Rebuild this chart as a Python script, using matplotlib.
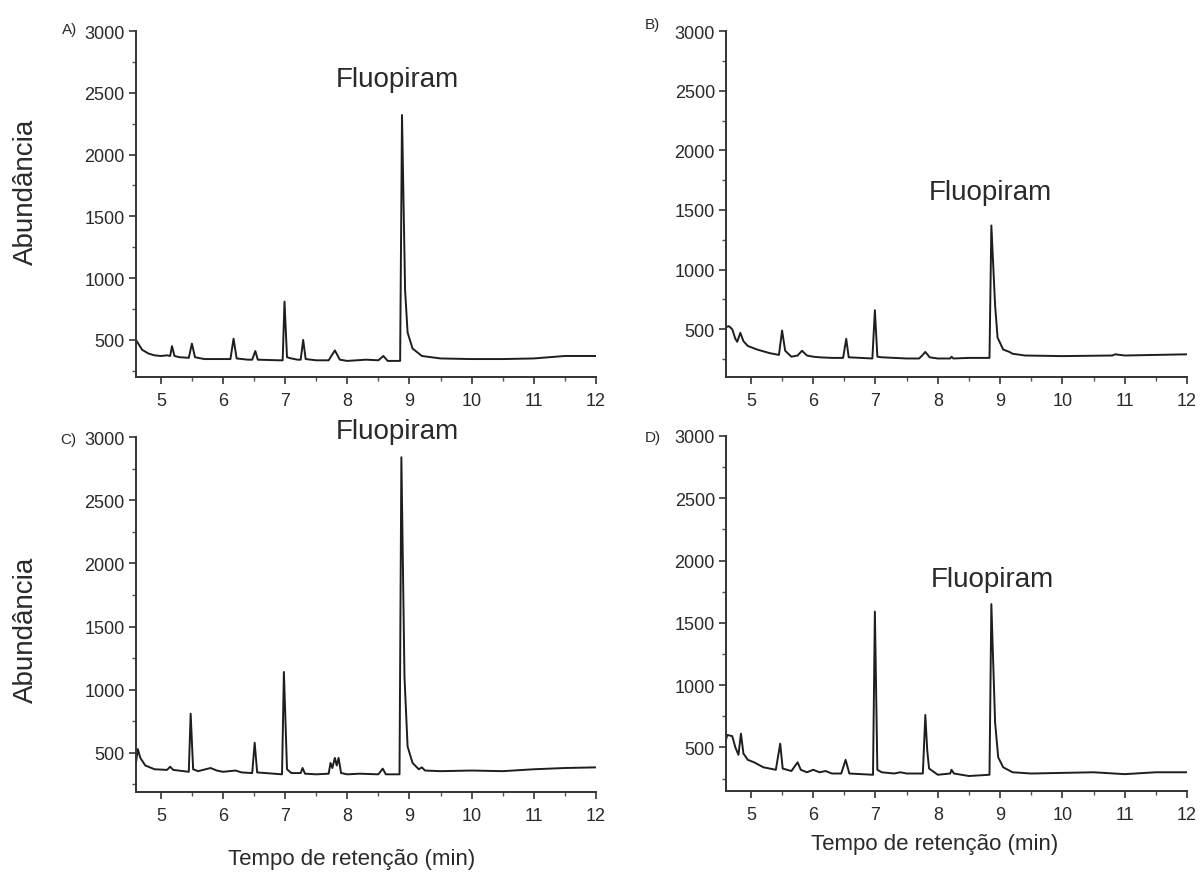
import matplotlib
matplotlib.use("Agg")
import matplotlib.pyplot as plt
from matplotlib.ticker import MultipleLocator

plt.rcParams['font.family'] = ['Liberation Sans', 'DejaVu Sans']

t_a = [4.6, 4.7, 4.8, 4.9, 5.0, 5.1, 5.15, 5.18, 5.22, 5.3, 5.45, 5.5, 5.55, 5.7, 6.0, 6.12,
       6.17, 6.22, 6.4, 6.47, 6.52, 6.56, 6.9, 6.96, 6.99, 7.03, 7.1, 7.2, 7.25, 7.29, 7.33,
       7.5, 7.7, 7.8, 7.88, 8.0, 8.3, 8.5, 8.58, 8.65, 8.85, 8.88, 8.93, 8.97, 9.05, 9.2,
       9.5, 10.0, 10.5, 11.0, 11.5, 12.0]
y_a = [500, 420, 390, 375, 370, 375, 370, 450, 370, 360, 355, 470, 360, 345, 345, 345,
       510, 350, 340, 340, 410, 340, 335, 335, 810, 360, 350, 340, 340, 500, 345,
       335, 335, 415, 340, 330, 340, 335, 370, 330, 330, 2320, 900, 560, 430, 370,
       350, 345, 345, 350, 370, 370]

t_b = [4.6, 4.65, 4.7, 4.75, 4.78, 4.83, 4.88, 4.95, 5.1, 5.3, 5.45, 5.5, 5.55, 5.65,
       5.75, 5.82, 5.9, 6.0, 6.1, 6.3, 6.48, 6.53, 6.57, 6.95, 6.99, 7.03, 7.1, 7.5, 7.7,
       7.75, 7.8, 7.87, 8.0, 8.2, 8.22, 8.25, 8.5, 8.83, 8.86, 8.92, 8.96, 9.05, 9.15,
       9.2, 9.4, 10.0, 10.8, 10.85, 11.0, 12.0]
y_b = [520, 525, 500, 420, 395, 470, 400, 360, 330, 300, 285, 490, 320, 270,
       280, 320, 280, 270, 265, 260, 260, 420, 265, 255, 660, 270, 265, 255, 255,
       280, 310, 265, 255, 255, 270, 255, 260, 260, 1370, 700, 430, 330, 310,
       295, 280, 275, 280, 290, 280, 290]

t_c = [4.6, 4.63, 4.67, 4.75, 4.9, 5.1, 5.15, 5.2, 5.45, 5.48, 5.52, 5.6, 5.8, 5.9, 6.0,
       6.2, 6.3, 6.47, 6.51, 6.55, 6.95, 6.98, 7.03, 7.1, 7.25, 7.28, 7.32, 7.5, 7.7,
       7.73, 7.76, 7.8, 7.83, 7.86, 7.9, 8.0, 8.2, 8.5, 8.57, 8.62, 8.84, 8.87, 8.92,
       8.97, 9.05, 9.15, 9.2, 9.25, 9.5, 10.0, 10.5, 11.0, 11.5, 12.0]
y_c = [420, 530, 460, 400, 370, 365, 390, 365, 350, 810, 370, 355, 380, 360, 350,
       360, 345, 340, 580, 345, 330, 1140, 370, 340, 340, 380, 335, 330, 335,
       420, 380, 460, 400, 460, 340, 330, 335, 330, 375, 330, 330, 2840, 1100,
       550, 420, 370, 385, 360, 355, 360, 355, 370, 380, 385]

t_d = [4.6, 4.62, 4.7, 4.75, 4.8, 4.84, 4.88, 4.95, 5.05, 5.2, 5.4, 5.47, 5.51, 5.65,
       5.75, 5.8, 5.9, 6.0, 6.1, 6.2, 6.3, 6.45, 6.52, 6.58, 6.96, 6.99, 7.03, 7.1,
       7.3, 7.4, 7.5, 7.76, 7.8, 7.83, 7.86, 8.0, 8.2, 8.22, 8.26, 8.5, 8.83, 8.86,
       8.92, 8.97, 9.05, 9.2, 9.5, 10.0, 10.5, 11.0, 11.5, 12.0]
y_d = [560, 600, 590, 500, 440, 610, 450, 400, 380, 340, 320, 530, 330, 310,
       380, 320, 300, 320, 300, 310, 290, 290, 400, 290, 280, 1590, 320, 300,
       290, 300, 290, 290, 760, 480, 330, 280, 290, 320, 290, 270, 280, 1650,
       700, 420, 340, 300, 290, 295, 300, 285, 300, 300]

panel_letters = ['A)', 'B)', 'C)', 'D)']
y_bottoms = [200, 100, 190, 150]
fluo_pos = [(8.81, 2613), (8.85, 1654), (8.81, 3050), (8.87, 1850)]

# posições dos eixos em fração da figura [esq, base, larg, alt]
rects = [[0.1132, 0.5695, 0.383, 0.394],
         [0.6045, 0.5695, 0.3838, 0.394],
         [0.1132, 0.0968, 0.383, 0.4043],
         [0.6045, 0.0980, 0.3838, 0.4043]]
letter_pos = [(0.052, 0.966), (0.537, 0.972), (0.050, 0.499), (0.537, 0.501)]

fig = plt.figure(figsize=(12.01, 8.78), dpi=100)
txt = '#2a2a2a'
series = [(t_a, y_a), (t_b, y_b), (t_c, y_c), (t_d, y_d)]

for i, (t, y) in enumerate(series):
    ax = fig.add_axes(rects[i])
    ax.plot(t, y, color='#1e1e1e', lw=1.4)
    ax.set_xlim(4.6, 12)
    ax.set_ylim(y_bottoms[i], 3000)
    for s in ['top', 'right']:
        ax.spines[s].set_visible(False)
    for s in ['left', 'bottom']:
        ax.spines[s].set_color('#333333')
        ax.spines[s].set_linewidth(1.4)
    ax.xaxis.set_major_locator(MultipleLocator(1))
    ax.xaxis.set_minor_locator(MultipleLocator(0.5))
    ax.yaxis.set_minor_locator(MultipleLocator(250))
    ax.set_yticks([500, 1000, 1500, 2000, 2500, 3000])
    ax.tick_params(which='major', length=5, width=1.2, color='#333333',
                   labelsize=13, labelcolor=txt, pad=3)
    ax.tick_params(which='minor', length=3, width=1.0, color='#555555')
    ax.tick_params(axis='x', pad=6)
    ax.text(fluo_pos[i][0], fluo_pos[i][1], 'Fluopiram', fontsize=20, color=txt,
            ha='center', va='center', clip_on=False)
    fig.text(letter_pos[i][0], letter_pos[i][1], panel_letters[i], fontsize=11,
             color=txt, va='center')

fig.text(0.022, 0.781, 'Abundância', fontsize=20, color=txt, rotation=90,
         ha='center', va='center')
fig.text(0.022, 0.283, 'Abundância', fontsize=20, color=txt, rotation=90,
         ha='center', va='center')
fig.text(0.293, 0.021, 'Tempo de retenção (min)', fontsize=16, color=txt,
         ha='center', va='center')
fig.text(0.778, 0.038, 'Tempo de retenção (min)', fontsize=16, color=txt,
         ha='center', va='center')

fig.savefig('out.png', dpi=100)
